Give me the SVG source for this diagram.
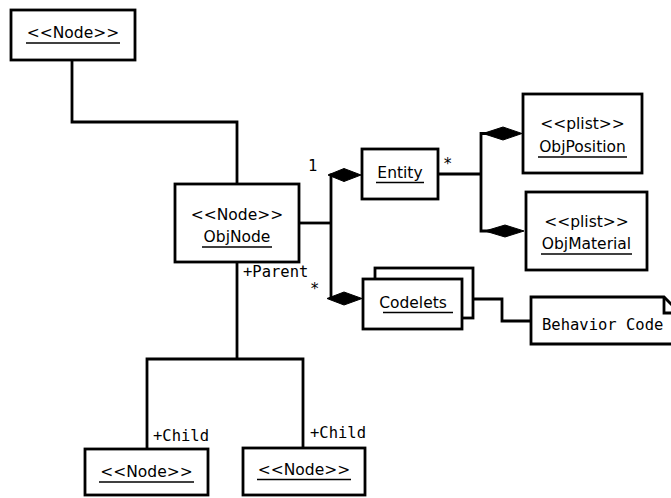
<svg xmlns="http://www.w3.org/2000/svg" width="671" height="498" viewBox="0 0 671 498">
<style>
.box{fill:#fff;stroke:#000;stroke-width:2.8}
.ln{fill:none;stroke:#000;stroke-width:2.8}
.ul{stroke:#000;stroke-width:1.3}
.dia{fill:#000;stroke:#000;stroke-width:1}
.t{font-family:"DejaVu Sans",sans-serif;font-size:15.5px;fill:#000;text-anchor:middle}
.m{font-family:"DejaVu Sans Mono",monospace;font-size:15.5px;fill:#000}
</style>
<rect width="671" height="498" fill="#fff"/>
<g id="connectors">
<polyline class="ln" points="72,60 72,122 237,122 237,184"/>
<polyline class="ln" points="237,262 237,359"/>
<polyline class="ln" points="147,449 147,359 303,359 303,448"/>
<polyline class="ln" points="299,223 331,223"/>
<polyline class="ln" points="345,175 331,175 331,298 345,298"/>
<polygon class="dia" points="328,175 344,168.5 361,175 344,181.5"/>
<polygon class="dia" points="327,298.5 344,292 362,298.5 344,305"/>
<polyline class="ln" points="438,174 481,174"/>
<polyline class="ln" points="495,133.5 481,133.5 481,231 495,231"/>
<polygon class="dia" points="483,133.5 503,127 522,133.5 503,140"/>
<polygon class="dia" points="485,231 505,225 524,231 505,237"/>
<polyline class="ln" points="473,299 502,299 502,321 531,321"/>
<text class="m" x="308" y="171">1</text>
<text class="m" x="310" y="294">*</text>
<text class="m" x="443" y="169">*</text>
<text class="m" x="243" y="277">+Parent</text>
<text class="m" x="153" y="441">+Child</text>
<text class="m" x="310" y="438">+Child</text>
</g>
<g id="node-top">
<rect class="box" x="11" y="10" width="124" height="50"/>
<text class="t" x="73" y="38">&lt;&lt;Node&gt;&gt;</text>
<line class="ul" x1="26" y1="43" x2="120" y2="43"/>
</g>
<g id="node-objnode">
<rect class="box" x="175" y="184" width="124" height="78"/>
<text class="t" x="237" y="220">&lt;&lt;Node&gt;&gt;</text>
<text class="t" x="237" y="242">ObjNode</text>
<line class="ul" x1="202" y1="247" x2="272" y2="247"/>
</g>
<g id="node-entity">
<rect class="box" x="362" y="149" width="76" height="50"/>
<text class="t" x="400" y="178">Entity</text>
<line class="ul" x1="376" y1="182.5" x2="424" y2="182.5"/>
</g>
<g id="node-objposition">
<rect class="box" x="523" y="94" width="119" height="79"/>
<text class="t" x="582.5" y="129">&lt;&lt;plist&gt;&gt;</text>
<text class="t" x="582.5" y="152">ObjPosition</text>
<line class="ul" x1="538" y1="157" x2="627" y2="157"/>
</g>
<g id="node-objmaterial">
<rect class="box" x="526" y="192" width="121" height="78"/>
<text class="t" x="586.5" y="227">&lt;&lt;plist&gt;&gt;</text>
<text class="t" x="586.5" y="249">ObjMaterial</text>
<line class="ul" x1="541" y1="254" x2="632" y2="254"/>
</g>
<g id="node-codelets">
<rect class="box" x="375" y="268" width="98" height="50"/>
<rect class="box" x="363" y="279" width="99" height="50"/>
<text class="t" x="413" y="308">Codelets</text>
<line class="ul" x1="383" y1="312.5" x2="453" y2="312.5"/>
</g>
<g id="note-behavior">
<path class="box" d="M531,297 H664 L680,313 V344 H531 Z"/>
<path class="ln" d="M664,297 V313 H680"/>
<text class="m" x="542" y="330">Behavior Code</text>
</g>
<g id="node-child-left">
<rect class="box" x="85" y="449" width="123" height="46"/>
<text class="t" x="146.5" y="477">&lt;&lt;Node&gt;&gt;</text>
<line class="ul" x1="99" y1="482" x2="194" y2="482"/>
</g>
<g id="node-child-right">
<rect class="box" x="243" y="448" width="122" height="47"/>
<text class="t" x="304" y="475">&lt;&lt;Node&gt;&gt;</text>
<line class="ul" x1="257" y1="479.5" x2="351" y2="479.5"/>
</g>
</svg>
